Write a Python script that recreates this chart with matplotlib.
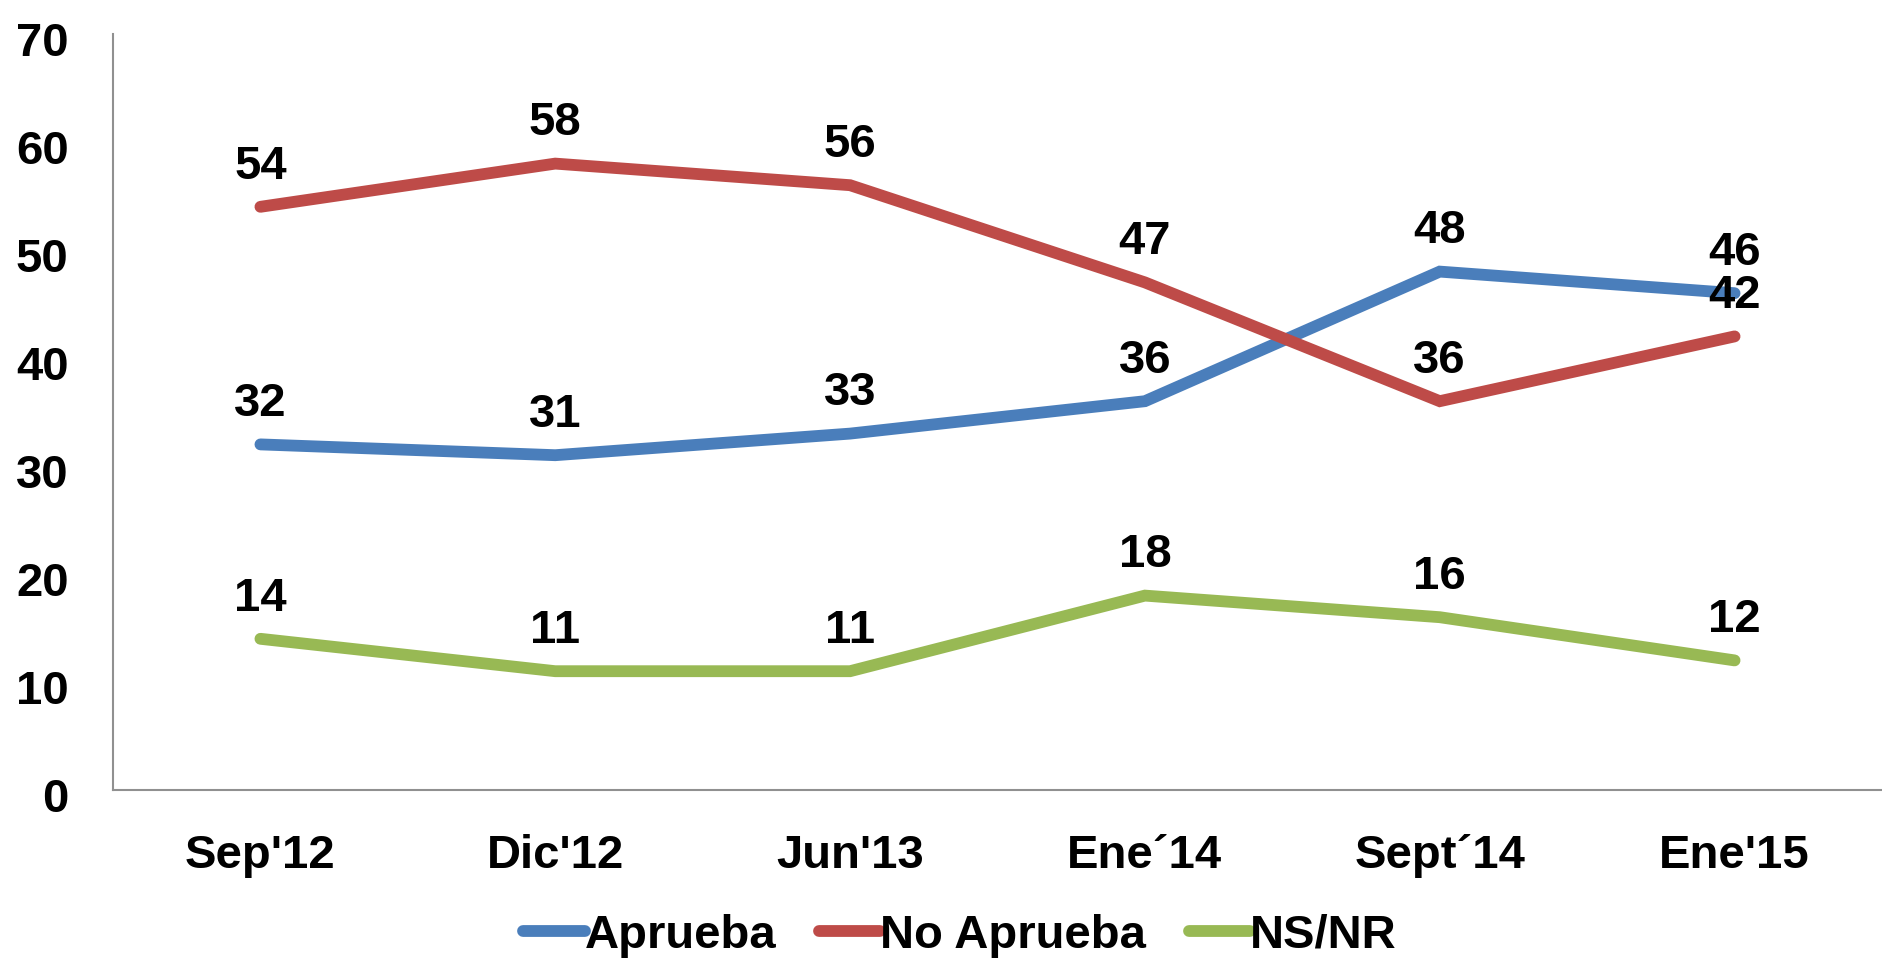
import matplotlib
matplotlib.use("Agg")
import matplotlib.pyplot as plt
import matplotlib.transforms as mtransforms

categories = ["Sep'12", "Dic'12", "Jun'13", "Ene\u00b414", "Sept\u00b414", "Ene'15"]
aprueba = [32, 31, 33, 36, 48, 46]
no_aprueba = [54, 58, 56, 47, 36, 42]
ns_nr = [14, 11, 11, 18, 16, 12]
series_names = ["Aprueba", "No Aprueba", "NS/NR"]
colors = ["#4A7EBB", "#BE4B48", "#98B954"]
yticks = [0, 10, 20, 30, 40, 50, 60, 70]

plt.rcParams['font.family'] = ['Liberation Sans', 'DejaVu Sans']
plt.rcParams['font.weight'] = 'bold'
FS = 34

fig = plt.figure(figsize=(18.82, 9.65), dpi=100)
ax = fig.add_axes([113/1882, 1 - 790/965, 1 - 113/1882, (790 - 34)/965])

x = list(range(len(categories)))
handles = []
for vals, name, c in zip([aprueba, no_aprueba, ns_nr], series_names, colors):
    h, = ax.plot(x, vals, color=c, lw=8.5, solid_capstyle='round', solid_joinstyle='miter', label=name)
    handles.append(h)
    for xi, v in zip(x, vals):
        ax.annotate(str(v), (xi, v), xytext=(0, 29), textcoords='offset points',
                    ha='center', va='center', fontsize=FS, fontweight='bold', color='black')

ax.set_xlim(-0.5, len(categories) - 0.5)
ax.set_ylim(0, 70)
ax.set_yticks(yticks)
ax.set_xticks(x)
ax.set_xticklabels(categories)
ax.tick_params(axis='both', length=0, labelsize=FS)
ax.tick_params(axis='y', pad=32)
ax.tick_params(axis='x', pad=32)
off = mtransforms.ScaledTranslation(0, -5/100, fig.dpi_scale_trans)
for lab in ax.get_yticklabels():
    lab.set_transform(lab.get_transform() + off)
for s in ['top', 'right']:
    ax.spines[s].set_visible(False)
for s in ['left', 'bottom']:
    ax.spines[s].set_color('#909090')
    ax.spines[s].set_linewidth(1.5)

leg = fig.legend(handles=handles, loc='center', bbox_to_anchor=(960/1882, 1 - 936/965), ncol=3,
                 frameon=False, fontsize=FS, handlelength=1.3, handletextpad=0.0,
                 columnspacing=0.9)
for t in leg.get_texts():
    t.set_fontweight('bold')

fig.savefig("out.png", dpi=100)
